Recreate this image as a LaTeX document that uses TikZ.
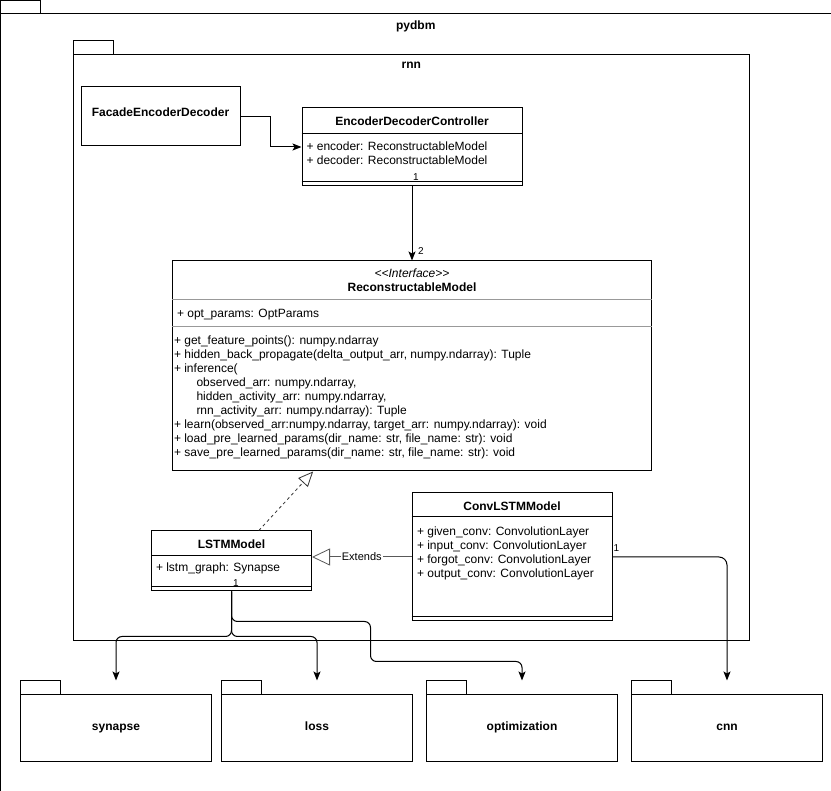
\documentclass[tikz,border=0pt]{standalone}
\usepackage{fontspec}
\setmainfont{Liberation Sans}
\usetikzlibrary{arrows.meta,calc}
\newcommand\pkgdraw[2][14]{%
  \draw (#2.north west) rectangle ($(#2.north west)+(40,#1)$);
  \draw ($(#2.north west)+(0,#1)$) rectangle (#2.south east);}
\begin{document}
\begin{tikzpicture}[x=1pt,y=-1pt,line width=1pt,
  box/.style={draw,inner sep=0,anchor=north west},
  pkg/.style={inner sep=0,anchor=north west},
  txt/.style={inner sep=0,text height=8.6pt,text depth=0pt,font=\fontsize{12}{14}\selectfont,anchor=west},
  ttl/.style={inner sep=0,text height=8.6pt,text depth=0pt,font=\bfseries\fontsize{12}{14}\selectfont},
  lbl/.style={inner sep=0,text height=7pt,text depth=0pt,font=\fontsize{10}{11}\selectfont},
  arr/.style={-{Stealth[length=9pt,width=7pt,inset=2pt]}},
  sep/.style={line width=1pt},
  gsep/.style={line width=1pt,draw=black!40}]
\fill[white] (0,0) rectangle (831,791);
\useasboundingbox (0,0) rectangle (831,791);

% packages
\node[pkg,minimum width=829.5,minimum height=789.5] (pydbm) at (0.5,0.5) {};
\pkgdraw[13.5]{pydbm}
\node[ttl] (pydbmt) at ($(pydbm.north)+(0,25)$) {pydbm};
\node[pkg,minimum width=674.5,minimum height=599.5] (rnn) at (73.5,40.5) {};
\pkgdraw{rnn}
\node[ttl] (rnnt) at ($(rnn.north)+(0,24)$) {rnn};
\foreach \n/\x in {synapse/20.5,loss/221.5,optimization/426.5,cnn/631.5}{
  \node[pkg,minimum width=190,minimum height=80] (\n) at (\x,680.5) {};
  \pkgdraw{\n}
  \node[ttl] (\n t) at ($(\n.north)+(0,46)$) {\n};
}

% FacadeEncoderDecoder
\node[box,minimum width=159,minimum height=59] (facade) at (80.5,86.5) {};
\node[ttl] (facadet) at ($(facade.north)+(0,26)$) {FacadeEncoderDecoder};

% EncoderDecoderController
\node[box,minimum width=220,minimum height=78] (edc) at (301.5,107.5) {};
\node[ttl] (edct) at ($(edc.north)+(0,14)$) {EncoderDecoderController};
\draw[sep] ($(edc.north west)+(0,26)$) -- ($(edc.north east)+(0,26)$);
\node[txt] (edc1) at (306,146.5) {+ encoder: ReconstructableModel};
\node[txt] (edc2) at (306,160.5) {+ decoder: ReconstructableModel};
\draw[sep] ($(edc.south west)+(0,-5)$) -- ($(edc.south east)+(0,-5)$);

% ReconstructableModel
\node[box,minimum width=479,minimum height=210] (rm) at (172,260.5) {};
\node[txt,anchor=center,font=\itshape\fontsize{12}{14}\selectfont] (rmst) at ($(rm.north)+(0,12.5)$) {<{}<Interface>{}>};
\node[ttl] (rmt) at ($(rm.north)+(0,27)$) {ReconstructableModel};
\draw[gsep] ($(rm.north west)+(0,39)$) -- ($(rm.north east)+(0,39)$);
\node[txt] (rma) at (176.5,313) {+ opt\_params: OptParams};
\draw[gsep] ($(rm.north west)+(0,66)$) -- ($(rm.north east)+(0,66)$);
\node[txt] (rm1) at (173.5,340) {+ get\_feature\_points(): numpy.ndarray};
\node[txt] (rm2) at (173.5,354) {+ hidden\_back\_propagate(delta\_output\_arr, numpy.ndarray): Tuple};
\node[txt] (rm3) at (173.5,368) {+ inference(};
\node[txt] (rm4) at (196,382) {observed\_arr: numpy.ndarray,};
\node[txt] (rm5) at (196,396) {hidden\_activity\_arr: numpy.ndarray,};
\node[txt] (rm6) at (196,410) {rnn\_activity\_arr: numpy.ndarray): Tuple};
\node[txt] (rm7) at (173.5,424) {+ learn(observed\_arr:numpy.ndarray, target\_arr: numpy.ndarray): void};
\node[txt] (rm8) at (173.5,438) {+ load\_pre\_learned\_params(dir\_name: str, file\_name: str): void};
\node[txt] (rm9) at (173.5,452) {+ save\_pre\_learned\_params(dir\_name: str, file\_name: str): void};

% LSTMModel
\node[box,minimum width=160,minimum height=60] (lstm) at (151,530.5) {};
\node[ttl] (lstmt) at ($(lstm.north)+(0,14)$) {LSTMModel};
\draw[sep] ($(lstm.north west)+(0,25)$) -- ($(lstm.north east)+(0,25)$);
\node[txt] (lstm1) at (155.5,567.5) {+ lstm\_graph: Synapse};
\draw[sep] ($(lstm.south west)+(0,-5)$) -- ($(lstm.south east)+(0,-5)$);

% ConvLSTMModel
\node[box,minimum width=200,minimum height=128] (conv) at (411.5,492.5) {};
\node[ttl] (convt) at ($(conv.north)+(0,13.5)$) {ConvLSTMModel};
\draw[sep] ($(conv.north west)+(0,24.5)$) -- ($(conv.north east)+(0,24.5)$);
\node[txt] (conv1) at (416.5,531.5) {+ given\_conv: ConvolutionLayer};
\node[txt] (conv2) at (416.5,545.5) {+ input\_conv: ConvolutionLayer};
\node[txt] (conv3) at (416.5,559.5) {+ forgot\_conv: ConvolutionLayer};
\node[txt] (conv4) at (416.5,573.5) {+ output\_conv: ConvolutionLayer};
\draw[sep] ($(conv.south west)+(0,-5)$) -- ($(conv.south east)+(0,-5)$);

% connectors
\draw[arr] (facade.east) -- ++(30,0) |- (edc.west);
\draw[arr] (edc.south) -- (edc.south |- rm.north);
\node[lbl] (m1) at (416,177) {1};
\node[lbl] (m2) at (421,251) {2};

\draw[dash pattern=on 3pt off 3pt,line width=0.8pt,draw=black!80,
      -{Triangle[open,length=15pt,width=13pt,line width=0.8pt]}]
  ($(lstm.north west)!0.67!(lstm.north east)$) -- ($(rm.south west)!0.294!(rm.south east)$);

\draw[draw=black!65,-{Triangle[open,length=18pt,width=17pt,line width=0.8pt]}]
  (conv.west) -- (conv.west -| lstm.east)
  node[midway,fill=white,inner sep=1pt,font=\fontsize{11}{12}\selectfont,text=black] (ext) {Extends};

\draw[arr,rounded corners=6pt] (lstm.south) -- ++(0,45) -| (synapse.north);
\draw[arr,rounded corners=6pt] (lstm.south) -- ++(0,45) -| (loss.north);
\draw[arr,rounded corners=6pt] (lstm.south) -- ++(0,30) -- ++(139,0) -- ++(0,40) -| (optimization.north);
\node[lbl] (m3) at (236,583) {1};

\draw[arr,rounded corners=8pt] (conv.east) -| (cnn.north);
\node[lbl] (m4) at (616.5,548) {1};
\end{tikzpicture}
\end{document}
